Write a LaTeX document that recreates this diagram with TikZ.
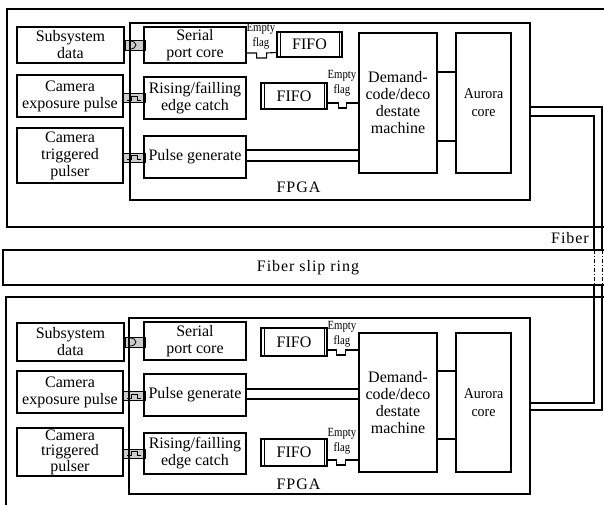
\documentclass[tikz,border=0pt]{standalone}
\usepackage{fontspec}
\setmainfont{Liberation Serif}
\newfontfamily\condfont[FakeStretch=0.86]{Liberation Serif}
\newfontfamily\aurfont[FakeStretch=0.93]{Liberation Serif}
\newfontfamily\spacedfont[LetterSpace=6]{Liberation Serif}
\begin{document}
\begin{tikzpicture}[x=1pt,y=-1pt,
  blk/.style={draw, line width=1.1pt, inner sep=0pt, align=center, font=\fontsize{16}{17}\selectfont},
  aur/.style={font=\aurfont\fontsize{15}{18}\selectfont},
  fifo/.style={blk, minimum width=66pt, minimum height=26pt,
    path picture={\draw[line width=0.8pt] ([xshift=3pt]path picture bounding box.north west) -- ([xshift=3pt]path picture bounding box.south west);
                  \draw[line width=0.8pt] ([xshift=-3pt]path picture bounding box.north east) -- ([xshift=-3pt]path picture bounding box.south east);}},
  conn/.style={draw, fill=gray!40, line width=0.7pt, minimum width=22pt, minimum height=9pt, inner sep=0pt},
  flagtxt/.style={font=\condfont\fontsize{12.5}{15}\selectfont, align=center, inner sep=0pt},
  lbl/.style={font=\spacedfont\fontsize{16}{17}\selectfont, inner sep=0pt},
  wire/.style={line width=1.1pt},
  frame/.style={line width=1.2pt},
  sym/.style={line width=0.8pt},
  dd/.style={line width=1pt, dash pattern=on 4pt off 2pt on 1pt off 2pt}]
\useasboundingbox (0,0) rectangle (604,505);
\clip (0,0) rectangle (604,505);

% outer frames
\draw[frame] (610,9) -- (7,9) -- (7,227) -- (610,227);
\draw[frame] (610,250) -- (3,250) -- (3,285) -- (610,285);
\draw[frame] (610,297) -- (6,297) -- (6,510);
\node[lbl, anchor=east] (fib) at (589,238.5) {Fiber};
\node[lbl] (slip) at (308,267.5) {Fiber slip ring};

% ===== top =====
\node[conn, minimum width=20pt, minimum height=10pt] (c1a) at (135,45) {};
\node[conn] (c1b) at (134,98) {};
\node[conn] (c1c) at (134,157.5) {};
\node[blk, minimum width=400pt, minimum height=177pt] (fpga1) at (330,111.5) {};
\node[lbl] (fl1) at (298.5,187) {FPGA};
\draw[sym] ([shift={(-5,-4)}]c1a.center) arc[start angle=90, end angle=-90, x radius=6pt, y radius=4pt];
\draw[sym] ([shift={(-7,2)}]c1b.center) -- ++(4,0) -- ++(0,-4) -- ++(6,0) -- ++(0,4) -- ++(4,0);
\draw[sym] ([shift={(-7,2)}]c1c.center) -- ++(4,0) -- ++(0,-4) -- ++(6,0) -- ++(0,4) -- ++(4,0);

\node[blk, minimum width=107pt, minimum height=36pt] (sub1) at (70.5,45) {Subsystem\\data};
\node[blk, minimum width=106pt, minimum height=42pt] (cam1) at (70,96) {Camera\\exposure pulse};
\node[blk, minimum width=106pt, minimum height=55pt] (trg1) at (70,155.5) {Camera\\triggered\\pulser};
\node[blk, minimum width=102pt, minimum height=36pt] (ser1) at (195,45) {Serial\\port core};
\node[blk, minimum width=102pt, minimum height=42pt] (ris1) at (195,98) {Rising/failling\\edge catch};
\node[blk, minimum width=102pt, minimum height=42pt] (pul1) at (195,157) {Pulse generate};
\node[fifo, minimum width=65pt, minimum height=25pt] (fa1) at (309.5,44.5) {FIFO};
\node[fifo] (fb1) at (294,96) {FIFO};
\node[blk, minimum width=78pt, minimum height=140pt] (dem1) at (398,103) {Demand-\\code/deco\\destate\\machine};
\node[blk, aur, minimum width=55pt, minimum height=140pt] (aur1) at (483.5,103) {Aurora\\core};
\node[flagtxt] (efa1) at (261,36.5) {Empty\\flag};
\node[flagtxt] (efb1) at (342,83.5) {Empty\\flag};

\draw[wire] ([yshift=-8pt]ser1.east) -- ++(10,0) -- ++(0,5) -- ++(10,0) -- ++(0,-5) -- ([yshift=-8pt]fa1.west);
\draw[wire] ([yshift=-7pt]fb1.east) -- ++(11,0) -- ++(0,5) -- ++(8,0) -- ++(0,-5) -- (dem1.west);
\draw[wire] ([yshift=31pt]dem1.east) -- ([yshift=31pt]aur1.west);
\draw[wire] ([yshift=-38pt]dem1.east) -- ([yshift=-38pt]aur1.west);
\draw[wire] ([yshift=7pt]pul1.east) -- ([yshift=-47pt]dem1.west);
\draw[wire] ([yshift=-4pt]pul1.east) -- ([yshift=-58pt]dem1.west);

% ===== bottom =====
\node[conn, minimum width=20pt, minimum height=10pt] (c2a) at (135,342) {};
\node[conn] (c2b) at (134,396) {};
\node[conn] (c2c) at (134,453.5) {};
\node[blk, minimum width=401pt, minimum height=176pt] (fpga2) at (329.5,406) {};
\node[lbl] (fl2) at (298.5,484) {FPGA};
\draw[sym] ([shift={(-5,-4)}]c2a.center) arc[start angle=90, end angle=-90, x radius=6pt, y radius=4pt];
\draw[sym] ([shift={(-7,2)}]c2b.center) -- ++(4,0) -- ++(0,-4) -- ++(6,0) -- ++(0,4) -- ++(4,0);
\draw[sym] ([shift={(-7,2)}]c2c.center) -- ++(4,0) -- ++(0,-4) -- ++(6,0) -- ++(0,4) -- ++(4,0);

\node[blk, minimum width=107pt, minimum height=38pt] (sub2) at (70.5,342) {Subsystem\\data};
\node[blk, minimum width=106pt, minimum height=42pt] (cam2) at (70,392) {Camera\\exposure pulse};
\node[blk, minimum width=106pt, minimum height=48pt, font=\fontsize{16}{15.5}\selectfont] (trg2) at (70,452) {Camera\\triggered\\pulser};
\node[blk, minimum width=102pt, minimum height=38pt] (ser2) at (195,341) {Serial\\port core};
\node[blk, minimum width=102pt, minimum height=42pt] (pul2) at (195,395) {Pulse generate};
\node[blk, minimum width=102pt, minimum height=41pt] (ris2) at (195,453.5) {Rising/failling\\edge catch};
\node[fifo, minimum height=28pt] (fa2) at (294,342) {FIFO};
\node[fifo, minimum height=27pt] (fb2) at (294,452.5) {FIFO};
\node[blk, minimum width=78pt, minimum height=139pt] (dem2) at (398,402.5) {Demand-\\code/deco\\destate\\machine};
\node[blk, aur, minimum width=55pt, minimum height=139pt] (aur2) at (483.5,402.5) {Aurora\\core};
\node[flagtxt] (efa2) at (342,334.5) {Empty\\flag};
\node[flagtxt] (efb2) at (342,441.5) {Empty\\flag};

\draw[wire] ([yshift=-8pt]fa2.east) -- ++(9,0) -- ++(0,5) -- ++(9,0) -- ++(0,-5) -- ([yshift=52.5pt]dem2.west);
\draw[wire] ([yshift=-7.5pt]fb2.east) -- ++(9,0) -- ++(0,5) -- ++(9,0) -- ++(0,-5) -- ([yshift=-57.5pt]dem2.west);
\draw[wire] ([yshift=31.5pt]dem2.east) -- ([yshift=31.5pt]aur2.west);
\draw[wire] ([yshift=-36.5pt]dem2.east) -- ([yshift=-36.5pt]aur2.west);
\draw[wire] ([yshift=6pt]pul2.east) -- ([yshift=13.5pt]dem2.west);
\draw[wire] ([yshift=-4pt]pul2.east) -- ([yshift=3.5pt]dem2.west);

% ===== fiber =====
\coordinate (fbo1) at (602,250);
\coordinate (fbo2) at (602,285);
\coordinate (fbi1) at (594,250);
\coordinate (fbi2) at (594,285);
\draw[wire] ([yshift=4.5pt]fpga1.east) -| (fbo1);
\draw[dd] (fbo1) -- (fbo2);
\draw[wire] (fbo2) |- ([yshift=-4pt]fpga2.east);
\draw[wire] ([yshift=-4.5pt]fpga1.east) -| (fbi1);
\draw[dd] (fbi1) -- (fbi2);
\draw[wire] (fbi2) |- ([yshift=3pt]fpga2.east);
\end{tikzpicture}
\end{document}
